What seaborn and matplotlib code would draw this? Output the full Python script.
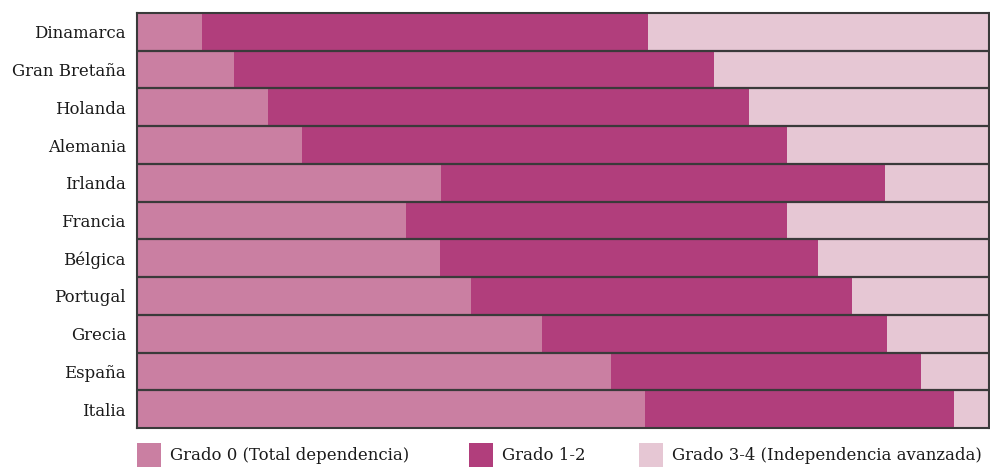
import matplotlib
matplotlib.use("Agg")
import matplotlib.pyplot as plt
from matplotlib.patches import Rectangle
import numpy as np
import pandas as pd
import seaborn as sns

paises = ["Dinamarca", "Gran Bretaña", "Holanda", "Alemania", "Irlanda", "Francia",
          "Bélgica", "Portugal", "Grecia", "España", "Italia"]
grado_0 = [7.6, 11.4, 15.4, 19.4, 35.7, 31.6, 35.6, 39.2, 47.5, 55.6, 59.6]
grado_1_2 = [52.4, 56.3, 56.4, 56.9, 52.1, 44.7, 44.3, 44.7, 40.5, 36.4, 36.3]
grado_3_4 = [round(100 - a - b, 1) for a, b in zip(grado_0, grado_1_2)]

series = ["Grado 0 (Total dependencia)", "Grado 1-2", "Grado 3-4 (Independencia avanzada)"]
colores = ["#CA7FA2", "#B13E7C", "#E6C7D4"]

sns.set_theme(style="white")
plt.rcParams["font.family"] = ["DejaVu Serif"]

df = pd.DataFrame({"pais": paises, "g0": grado_0, "g12": grado_1_2, "g34": grado_3_4})
df["c1"] = df["g0"]
df["c2"] = df["g0"] + df["g12"]
df["c3"] = df["c2"] + df["g34"]

fig = plt.figure(figsize=(9.9, 4.68), dpi=100)
ax = fig.add_axes([137 / 990, 40 / 468, 852 / 990, 415 / 468])

# stacked bars drawn back-to-front from the cumulative totals
for col, color in zip(["c3", "c2", "c1"], colores[::-1]):
    sns.barplot(data=df, y="pais", x=col, order=paises, orient="h", color=color,
                width=1.0, saturation=1, edgecolor="none", linewidth=0, ax=ax)

ax.set_xlim(0, 100)
ax.set_ylim(len(paises) - 0.5, -0.5)
for i in range(len(paises) - 1):
    ax.axhline(i + 0.5, color="#3a3a3a", lw=1.6, zorder=5)
for s in ax.spines.values():
    s.set_visible(True)
    s.set_color("#3a3a3a")
    s.set_linewidth(1.5)
ax.set_xticks([])
ax.set_xlabel("")
ax.set_ylabel("")
ax.tick_params(axis="y", length=0, pad=8, labelsize=11.9, labelcolor="#1a1a1a")

# legend row
leg_x = [137, 469, 639]
for x0, color, label in zip(leg_x, colores, series):
    fig.add_artist(Rectangle((x0 / 990, 1 / 468), 24 / 990, 24 / 468,
                             transform=fig.transFigure, facecolor=color, edgecolor="none"))
    fig.text((x0 + 33) / 990, 13 / 468, label, fontsize=11.9, color="#1a1a1a",
             va="center", ha="left")

fig.savefig("out.png", dpi=100)
